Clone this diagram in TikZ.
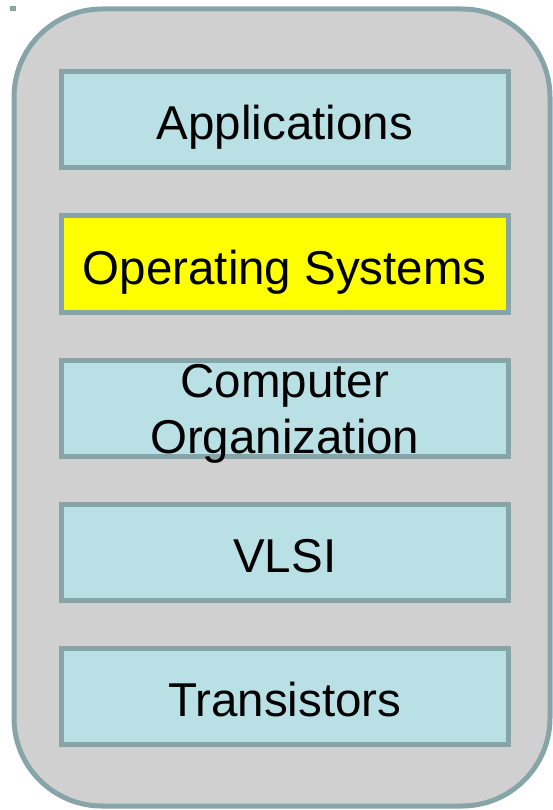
\documentclass[tikz,border=0pt]{standalone}
\usepackage{fontspec}
\setmainfont{Liberation Sans}
\usetikzlibrary{positioning}

\definecolor{stackgray}{RGB}{208,208,208}
\definecolor{edgeteal}{RGB}{135,165,168}
\definecolor{layercyan}{RGB}{185,224,228}
\definecolor{osyellow}{RGB}{255,255,0}

\begin{document}
\begin{tikzpicture}[
    x=1pt, y=-1pt,    % 1 unit = 1 pixel of the reference, y downwards
    font=\fontsize{47.5}{55.3}\selectfont,
    layer/.style={draw=edgeteal, line width=5pt, fill=layercyan,
                  minimum width=447pt, minimum height=96pt,
                  text height=40pt, text depth=0pt,
                  inner sep=0pt, align=center},
    current/.style={layer, fill=osyellow},
]
\useasboundingbox (0,0) rectangle (552,810);

% ── Outer frame ───────────────────────────────────────────────────────────────
\draw[edgeteal, line width=5pt, fill=stackgray, rounded corners=88pt]
    (14,9) rectangle (550,806);
\fill[edgeteal] (10,6) rectangle (16,11);

% ── Layers (top to bottom) ────────────────────────────────────────────────────
\node[layer]   (apps) at (284.75,120) {Applications};
\node[current] (os)   at (284.75,264) {Operating Systems};
\node[layer]   (org)  at (284.75,408) {};
\node[layer]   (vlsi) at (284.75,552) {VLSI};
\node[layer]   (trans) at (284.75,696) {Transistors};

% Two-line label spills over the box edge (base = last line)
\node[align=center, anchor=base] (orgtext) at (284.75,453)
    {Computer\\Organization};

\end{tikzpicture}
\end{document}
